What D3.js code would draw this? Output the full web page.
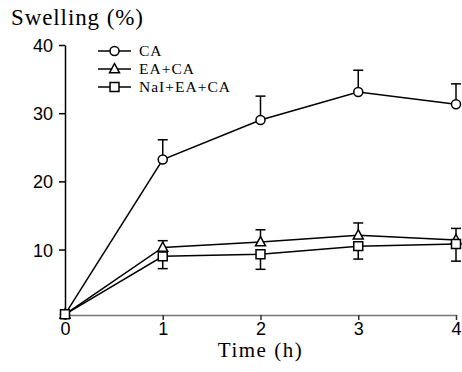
<!DOCTYPE html>
<html>
<head>
<meta charset="utf-8">
<script src="https://cdn.jsdelivr.net/npm/d3@7"></script>
<style>
  body { margin: 0; background: #fff; }
  .tick text { font-family: "Liberation Sans", Arial, sans-serif; font-size: 18px; }
</style>
</head>
<body>
<div class="chart"></div>
<script>
'use strict';

const times = [0, 1, 2, 3, 4];
const xTicks = [0, 1, 2, 3, 4];
const yTicks = [10, 20, 30, 40];
const seriesNames = ['CA', 'EA+CA', 'NaI+EA+CA'];
const caValues = [0.5, 23.2, 29.0, 33.1, 31.3];
const caErr = [0, 2.9, 3.5, 3.2, 3.0];
const eaValues = [0.5, 10.3, 11.1, 12.1, 11.4];
const eaErr = [0, 1.0, 1.8, 1.8, 1.7];
const naiValues = [0.5, 9.0, 9.3, 10.5, 10.8];
const naiErr = [0, 1.8, 2.2, 1.9, 2.5];

const series = [
    {name: seriesNames[0], values: caValues, err: caErr, dir: 1, shape: 'circle'},
    {name: seriesNames[1], values: eaValues, err: eaErr, dir: 1, shape: 'triangle'},
    {name: seriesNames[2], values: naiValues, err: naiErr, dir: -1, shape: 'square'}
];

const width = 462, height = 372;
const margin = {top: 45, right: 6, bottom: 57, left: 65};
const serif = '"Liberation Serif", "Times New Roman", serif';

const svg = d3.select('.chart').append('svg')
    .attr('width', width)
    .attr('height', height);

const x = d3.scaleLinear().domain([0, 4]).range([margin.left, width - margin.right]);
const y = d3.scaleLinear().domain([0.4, 40]).range([height - margin.bottom, margin.top]);

// x axis (grey line)
const xAxis = svg.append('g')
    .attr('transform', 'translate(0,' + y(0.4) + ')')
    .call(d3.axisBottom(x).tickValues(xTicks).tickFormat(d3.format('d')).tickSize(5).tickSizeOuter(0).tickPadding(2));
xAxis.select('.domain').attr('stroke', '#777').attr('stroke-width', 1.5);
xAxis.selectAll('.tick line').attr('stroke', '#333').attr('stroke-width', 1.5);
xAxis.selectAll('.tick text').attr('fill', '#000');

const yAxis = svg.append('g')
    .attr('transform', 'translate(' + margin.left + ',0)')
    .call(d3.axisLeft(y).tickValues(yTicks).tickSize(6).tickSizeOuter(0).tickPadding(6));
yAxis.select('.domain').attr('stroke', '#000').attr('stroke-width', 1.5);
yAxis.selectAll('.tick line').attr('stroke-width', 1.5);
yAxis.selectAll('.tick text').attr('fill', '#000').attr('dy', '0.36em');

svg.append('text')
    .attr('x', 11).attr('y', 25)
    .style('font-family', serif)
    .style('font-size', '23px')
    .style('letter-spacing', '0.9px')
    .text('Swelling (%)');

svg.append('text')
    .attr('x', x(2)).attr('y', 357)
    .attr('text-anchor', 'middle')
    .style('font-family', serif)
    .style('font-size', '21px')
    .style('letter-spacing', '1.5px')
    .text('Time (h)');

const line = d3.line()
    .x((d, i) => x(times[i]))
    .y((d) => y(d));

const markerPath = (shape) => {
    if (shape === 'circle') return d3.symbol(d3.symbolCircle, 64)();
    if (shape === 'square') return d3.symbol(d3.symbolSquare, 80)();
    return 'M0,-5.5L5,3.8L-5,3.8Z';
};

series.forEach((s) => {
    const g = svg.append('g');

    // error bars
    s.values.forEach((v, i) => {
        if (!s.err[i]) return;
        const y0 = y(v), y1 = y(v + s.dir * s.err[i]);
        g.append('line')
            .attr('x1', x(times[i])).attr('x2', x(times[i]))
            .attr('y1', y0).attr('y2', y1)
            .attr('stroke', '#000').attr('stroke-width', 1.5);
        g.append('line')
            .attr('x1', x(times[i]) - 5).attr('x2', x(times[i]) + 5)
            .attr('y1', y1).attr('y2', y1)
            .attr('stroke', '#000').attr('stroke-width', 1.5);
    });

    g.append('path')
        .datum(s.values)
        .attr('fill', 'none')
        .attr('stroke', '#000')
        .attr('stroke-width', 1.5)
        .attr('d', line);

    g.selectAll('.pt')
        .data(s.values)
        .enter().append('path')
        .attr('transform', (d, i) => 'translate(' + x(times[i]) + ',' + y(d) + ')')
        .attr('d', markerPath(s.shape))
        .attr('fill', '#fff')
        .attr('stroke', '#000')
        .attr('stroke-width', 1.5);
});

// legend
const legend = svg.append('g');
series.forEach((s, i) => {
    const ly = 51 + i * 18;
    legend.append('line')
        .attr('x1', 98).attr('x2', 131)
        .attr('y1', ly).attr('y2', ly)
        .attr('stroke', '#000').attr('stroke-width', 1.5);
    legend.append('path')
        .attr('transform', 'translate(114.5,' + ly + ')')
        .attr('d', markerPath(s.shape))
        .attr('fill', '#fff')
        .attr('stroke', '#000')
        .attr('stroke-width', 1.5);
    legend.append('text')
        .attr('x', 139).attr('y', ly + 5)
        .style('font-family', serif)
        .style('font-size', '15.5px')
        .style('letter-spacing', '1px')
        .text(s.name);
});
</script>
</body>
</html>
